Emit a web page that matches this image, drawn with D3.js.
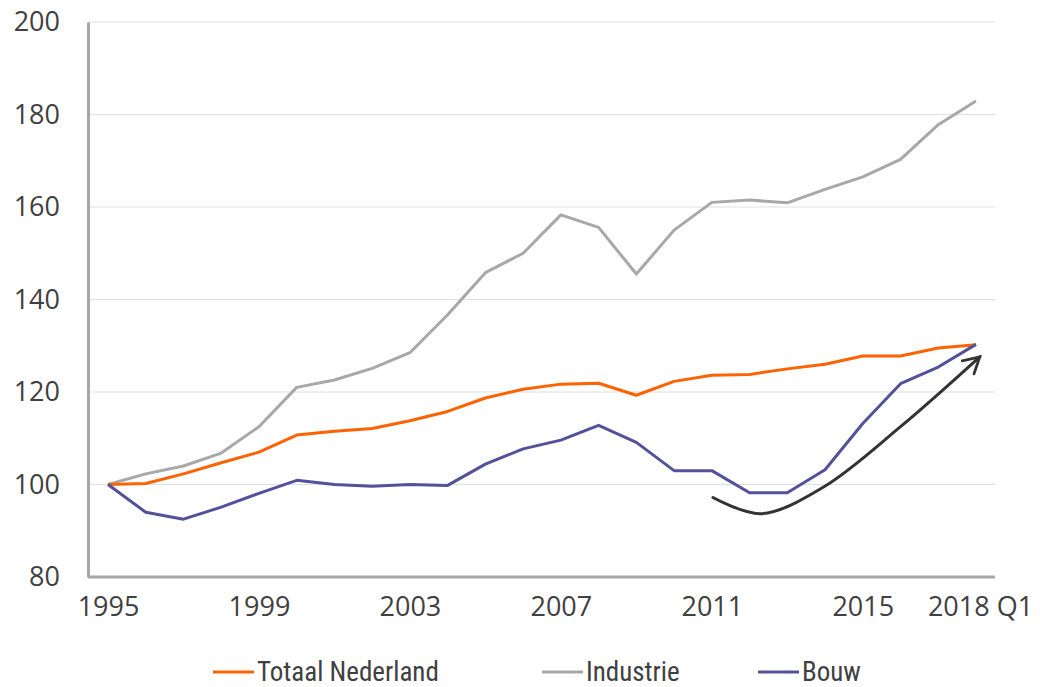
<!DOCTYPE html>
<html>
<head>
<meta charset="utf-8">
<script src="https://cdn.jsdelivr.net/npm/d3@7"></script>
<style>
  body { margin: 0; background: #fff; }
  svg { display: block; }
</style>
</head>
<body>
<div id="chart"></div>
<script>
// data
var years = d3.range(1995, 2019);
var totaal = [100, 100.2, 102.3, 104.7, 107, 110.7, 111.5, 112.1, 113.8, 115.8, 118.7, 120.6,
              121.7, 121.9, 119.3, 122.3, 123.6, 123.8, 125, 126, 127.8, 127.8, 129.5, 130.2];
var industrie = [100, 102.3, 104, 106.8, 112.5, 121, 122.6, 125.1, 128.5, 136.7, 145.8, 150,
                 158.3, 155.6, 145.5, 155, 161, 161.5, 160.9, 163.8, 166.5, 170.3, 177.8, 182.9];
var bouw = [100, 94, 92.5, 95.1, 98.1, 100.9, 100, 99.6, 100, 99.8, 104.4, 107.7,
            109.6, 112.8, 109.1, 103, 103, 98.2, 98.2, 103.2, 113.2, 121.8, 125.4, 130.3];
var seriesNames = ["Totaal Nederland", "Industrie", "Bouw"];
var xTicks = [1995, 1999, 2003, 2007, 2011, 2015, 2018];
var yTicks = [80, 100, 120, 140, 160, 180, 200];
// the hand drawn arrow, in data units (year, index)
var arrowPts = [[2011.03, 97.2], [2012.3, 93.7], [2013.95, 99.4], [2016, 112.5], [2018.1, 127.6]];

var width = 1040, height = 687;
var colors = ["#ff6200", "#a8a8a8", "#525199"];

var svg = d3.select("#chart").append("svg")
    .attr("width", width)
    .attr("height", height);

var x = d3.scaleLinear().domain([1995, 2018]).range([108, 976]);
var y = d3.scaleLinear().domain([80, 200]).range([577, 22]);

// gridlines
svg.append("g")
    .selectAll("line")
    .data(yTicks.slice(1))
    .join("line")
    .attr("x1", 88).attr("x2", 995)
    .attr("y1", d => y(d)).attr("y2", d => y(d))
    .attr("stroke", "#e0e0e0")
    .attr("stroke-width", 1.2);

// y axis
var yAxis = svg.append("g")
    .attr("transform", "translate(88,0)")
    .call(d3.axisLeft(y).tickValues(yTicks).tickSize(0).tickPadding(28));
yAxis.select(".domain").attr("stroke", "#a6a6a6").attr("stroke-width", 3);
yAxis.selectAll("text")
    .attr("font-family", "'Open Sans', sans-serif")
    .attr("font-size", 27)
    .attr("fill", "#404040");

// x axis
var xAxis = svg.append("g")
    .attr("transform", "translate(0,577)")
    .call(d3.axisBottom(x).tickValues(xTicks).tickSize(0).tickPadding(20)
        .tickFormat(d => d === 2018 ? "2018 Q1" : String(d)));
xAxis.select(".domain").attr("d", "M88,0H995").attr("stroke", "#a6a6a6").attr("stroke-width", 3);
xAxis.selectAll("text")
    .attr("font-family", "'Open Sans', sans-serif")
    .attr("font-size", 27)
    .attr("fill", "#404040")
    .attr("dx", d => d === 2018 ? 4 : 0);

// lines
var line = d3.line()
    .x((d, i) => x(years[i]))
    .y(d => y(d));

var allSeries = [totaal, industrie, bouw];
// draw gray first so orange and purple sit on top like the original
[1, 0, 2].forEach(function(k) {
    svg.append("path")
        .datum(allSeries[k])
        .attr("fill", "none")
        .attr("stroke", colors[k])
        .attr("stroke-width", 3)
        .attr("stroke-linejoin", "round")
        .attr("d", line);
});

// arrow
svg.append("defs").append("marker")
    .attr("id", "arrowhead")
    .attr("viewBox", "0 0 12 12")
    .attr("refX", 10).attr("refY", 6)
    .attr("markerWidth", 7).attr("markerHeight", 7)
    .attr("markerUnits", "strokeWidth")
    .attr("orient", "auto")
    .append("path")
    .attr("d", "M1,1 L10,6 L1,11")
    .attr("fill", "none")
    .attr("stroke", "#333")
    .attr("stroke-width", 1.6)
    .attr("stroke-linecap", "round");

svg.append("path")
    .datum(arrowPts)
    .attr("fill", "none")
    .attr("stroke", "#333")
    .attr("stroke-width", 3)
    .attr("stroke-linecap", "round")
    .attr("marker-end", "url(#arrowhead)")
    .attr("d", d3.line().x(d => x(d[0])).y(d => y(d[1])).curve(d3.curveCatmullRom));

// legend
var legendX = [213, 542, 758];
var legend = svg.append("g")
    .selectAll("g")
    .data(seriesNames)
    .join("g")
    .attr("transform", (d, i) => `translate(${legendX[i]},672)`);
legend.append("line")
    .attr("x1", 0).attr("x2", 41)
    .attr("stroke", (d, i) => colors[i])
    .attr("stroke-width", 3);
legend.append("text")
    .attr("x", 44)
    .attr("dy", "0.35em")
    .attr("font-family", "'Liberation Sans Narrow', 'Roboto Condensed', sans-serif")
    .attr("font-size", 27)
    .attr("fill", "#404040")
    .text(d => d);
</script>
</body>
</html>
